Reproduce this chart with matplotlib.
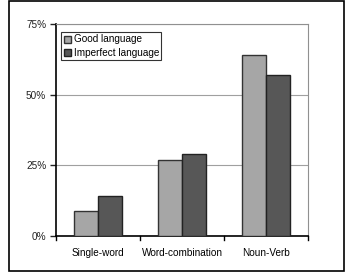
import matplotlib
matplotlib.use("Agg")
import matplotlib.pyplot as plt
import numpy as np
from matplotlib.patches import Rectangle

categories = ["Single-word", "Word-combination", "Noun-Verb"]
good = [9, 27, 64]
imperfect = [14, 29, 57]
series_names = ["Good language", "Imperfect language"]
yticks = [0, 25, 50, 75]
ytick_labels = ["0%", "25%", "50%", "75%"]

plt.rcParams['font.family'] = ['Liberation Sans', 'DejaVu Sans']
W, H = 358, 272
fig = plt.figure(figsize=(W/100, H/100), dpi=100)
ax = fig.add_axes([56/W, 1-236/H, (308-56)/W, (236-24)/H])

x = np.arange(len(categories))
bw = 0.286
ax.bar(x - bw/2, good, bw, color="#a6a6a6", edgecolor="#333333", linewidth=1.0, label=series_names[0], zorder=3)
ax.bar(x + bw/2, imperfect, bw, color="#575757", edgecolor="#222222", linewidth=1.0, label=series_names[1], zorder=3)

ax.set_xlim(-0.5, 2.5)
ax.set_ylim(0, 75)
ax.set_yticks(yticks)
ax.set_yticklabels(ytick_labels)
ax.set_xticks(x)
ax.set_xticklabels(categories)
ax.tick_params(axis='x', length=0, pad=9, labelsize=7.2)
ax.tick_params(axis='y', length=4, width=1, direction='out', pad=3, labelsize=7.2, colors='#222222')
for s in [-0.5, 0.5, 1.5, 2.5]:
    ax.plot([s, s], [0, -1.3], color='black', lw=1, clip_on=False, zorder=4)
ax.grid(axis='y', color='#a0a0a0', lw=0.8, zorder=0)
ax.spines['left'].set_color('black'); ax.spines['left'].set_linewidth(1.2)
ax.spines['bottom'].set_color('black'); ax.spines['bottom'].set_linewidth(1.2)
ax.spines['top'].set_color('#909090'); ax.spines['top'].set_linewidth(0.8)
ax.spines['right'].set_color('#909090'); ax.spines['right'].set_linewidth(0.8)

leg = ax.legend(loc='upper left', bbox_to_anchor=(5/252, 1-8/212), frameon=True, fancybox=False,
                edgecolor='black', fontsize=7.2, handlelength=0.7, handleheight=0.7,
                handletextpad=0.3, borderpad=0.25, labelspacing=0.3, borderaxespad=0)
leg.get_frame().set_linewidth(0.8)

fig.patches.append(Rectangle((9/W, 1/H), (344-9)/W, (271-1)/H, transform=fig.transFigure,
                             fill=False, edgecolor='black', lw=1.2))
fig.savefig("out.png", dpi=100)
